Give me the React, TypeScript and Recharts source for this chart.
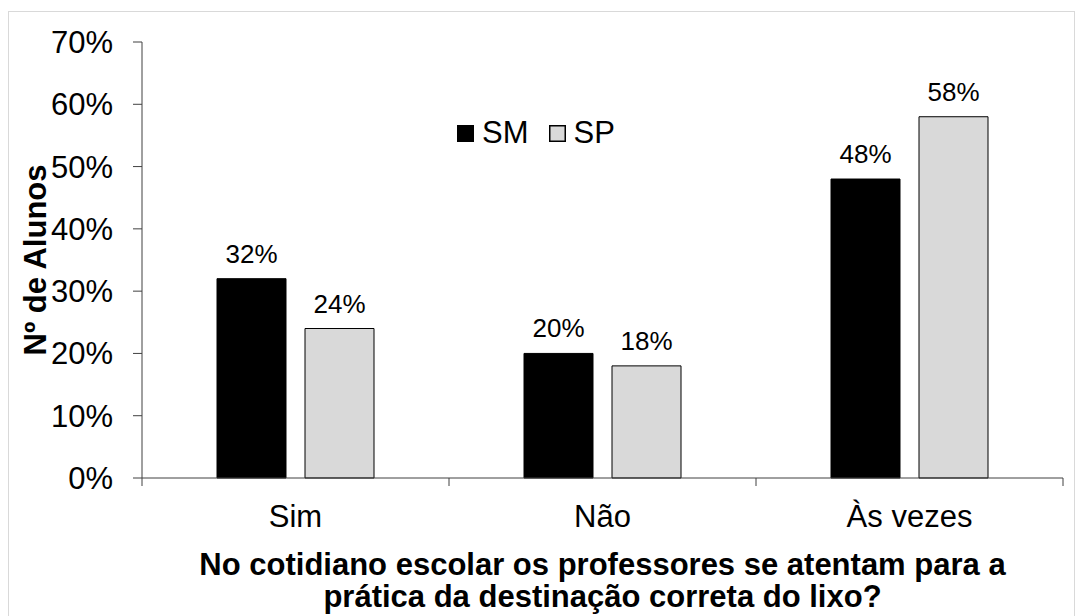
import React from 'react';
import { BarChart, Bar, XAxis, YAxis, Legend } from 'recharts';

const categories = ['Sim', 'Não', 'Às vezes'];
const smValues = [32, 20, 48];
const spValues = [24, 18, 58];
const yTicks = [0, 10, 20, 30, 40, 50, 60, 70];
const seriesNames = ['SM', 'SP'];
const yTitle = 'Nº de Alunos';
const xTitleLines = [
  'No cotidiano escolar os professores se atentam para a',
  'prática da destinação correta do lixo?',
];

const data = categories.map((c, i) => ({ cat: c, SM: smValues[i], SP: spValues[i] }));

const FONT = '"Liberation Sans", Arial, sans-serif';
const AXIS = '#404040';

const styles: Record<string, { fill: string; stroke: string }> = {
  SM: { fill: '#000000', stroke: '#000000' },
  SP: { fill: '#d9d9d9', stroke: '#000000' },
};

const CatTick = (props: any) => {
  const { x, y, payload, index, visibleTicksCount } = props;
  const half = payload && typeof payload.offset === 'number' ? payload.offset : 0;
  const axisY = y - 8;
  const isLast = index === visibleTicksCount - 1;
  return (
    <g>
      <line x1={x - half} x2={x - half} y1={axisY} y2={axisY + 8} stroke={AXIS} strokeWidth={1} />
      {isLast && (
        <line x1={x + half} x2={x + half} y1={axisY} y2={axisY + 8} stroke={AXIS} strokeWidth={1} />
      )}
      <text x={x} y={y} dy={41} textAnchor="middle" fontSize={31} fill="#000" fontFamily={FONT}>
        {payload.value}
      </text>
    </g>
  );
};

const LegendContent = (props: any) => {
  const payload = props.payload || [];
  return (
    <div style={{ display: 'flex', alignItems: 'center', fontFamily: FONT, fontSize: 31, color: '#000', lineHeight: '34px' }}>
      {payload.map((p: any, i: number) => {
        const st = styles[p.dataKey] || { fill: p.color, stroke: p.color };
        return (
          <div key={i} style={{ display: 'flex', alignItems: 'center', marginRight: i === 0 ? 20 : 0 }}>
            <svg width={17} height={17} style={{ marginRight: 8 }}>
              <rect x={0.75} y={0.75} width={15.5} height={15.5} fill={st.fill} stroke={st.stroke} strokeWidth={1.5} />
            </svg>
            <span>{p.value}</span>
          </div>
        );
      })}
    </div>
  );
};

export default function App() {
  return (
    <div style={{ position: 'absolute', left: 0, top: 0, width: 1084, height: 616, background: '#fff', overflow: 'hidden' }}>
      <div
        style={{
          position: 'absolute',
          left: 8,
          top: 11,
          width: 1067,
          height: 620,
          border: '1px solid #d9d9d9',
          boxSizing: 'border-box',
        }}
      />
      <div style={{ position: 'absolute', left: 0, top: 0 }}>
        <BarChart
          width={1084}
          height={616}
          data={data}
          margin={{ top: 42, right: 21, bottom: 0, left: 0 }}
          barSize={69}
          barGap={19}
          style={{ fontFamily: FONT }}
        >
          <XAxis
            dataKey="cat"
            height={138}
            axisLine={{ stroke: AXIS, strokeWidth: 1 }}
            tickLine={false}
            tickSize={8}
            tickMargin={0}
            tick={<CatTick />}
            interval={0}
            label={{
              content: (p: any) => {
                const vb = p.viewBox || { x: 142, y: 478, width: 921, height: 138 };
                const cx = vb.x + vb.width / 2;
                return (
                  <text textAnchor="middle" fontSize={31} fontWeight="bold" fill="#000" fontFamily={FONT}>
                    <tspan x={cx} y={vb.y + 97}>{xTitleLines[0]}</tspan>
                    <tspan x={cx} y={vb.y + 129}>{xTitleLines[1]}</tspan>
                  </text>
                );
              },
            }}
          />
          <YAxis
            width={142}
            domain={[0, 70]}
            ticks={yTicks}
            interval={0}
            tickFormatter={(v: number) => `${v}%`}
            axisLine={{ stroke: AXIS, strokeWidth: 1 }}
            tickLine={{ stroke: AXIS, strokeWidth: 1 }}
            tickSize={9}
            tickMargin={20}
            tick={{ fontSize: 31, fill: '#000', fontFamily: FONT }}
            label={{
              content: (p: any) => {
                const vb = p.viewBox || { x: 0, y: 42, width: 142, height: 436 };
                const cx = vb.x + 35;
                const cy = vb.y + vb.height / 2;
                return (
                  <text
                    x={cx}
                    y={cy}
                    transform={`rotate(-90 ${cx} ${cy})`}
                    textAnchor="middle"
                    dominantBaseline="central"
                    fontSize={31}
                    fontWeight="bold"
                    fill="#000"
                    fontFamily={FONT}
                  >
                    {yTitle}
                  </text>
                );
              },
            }}
          />
          <Legend
            layout="horizontal"
            verticalAlign="middle"
            align="center"
            content={<LegendContent />}
            wrapperStyle={{ position: 'absolute', left: 457, top: 116, width: 'auto', height: 34 }}
          />
          <Bar
            dataKey="SM"
            name={seriesNames[0]}
            fill={styles.SM.fill}
            stroke={styles.SM.stroke}
            strokeWidth={1}
            isAnimationActive={false}
            label={{ position: 'top', offset: 16, fontSize: 26, fill: '#000', fontFamily: FONT, formatter: (v: any) => `${v}%` }}
          />
          <Bar
            dataKey="SP"
            name={seriesNames[1]}
            fill={styles.SP.fill}
            stroke={styles.SP.stroke}
            strokeWidth={1}
            isAnimationActive={false}
            label={{ position: 'top', offset: 16, fontSize: 26, fill: '#000', fontFamily: FONT, formatter: (v: any) => `${v}%` }}
          />
        </BarChart>
      </div>
    </div>
  );
}
